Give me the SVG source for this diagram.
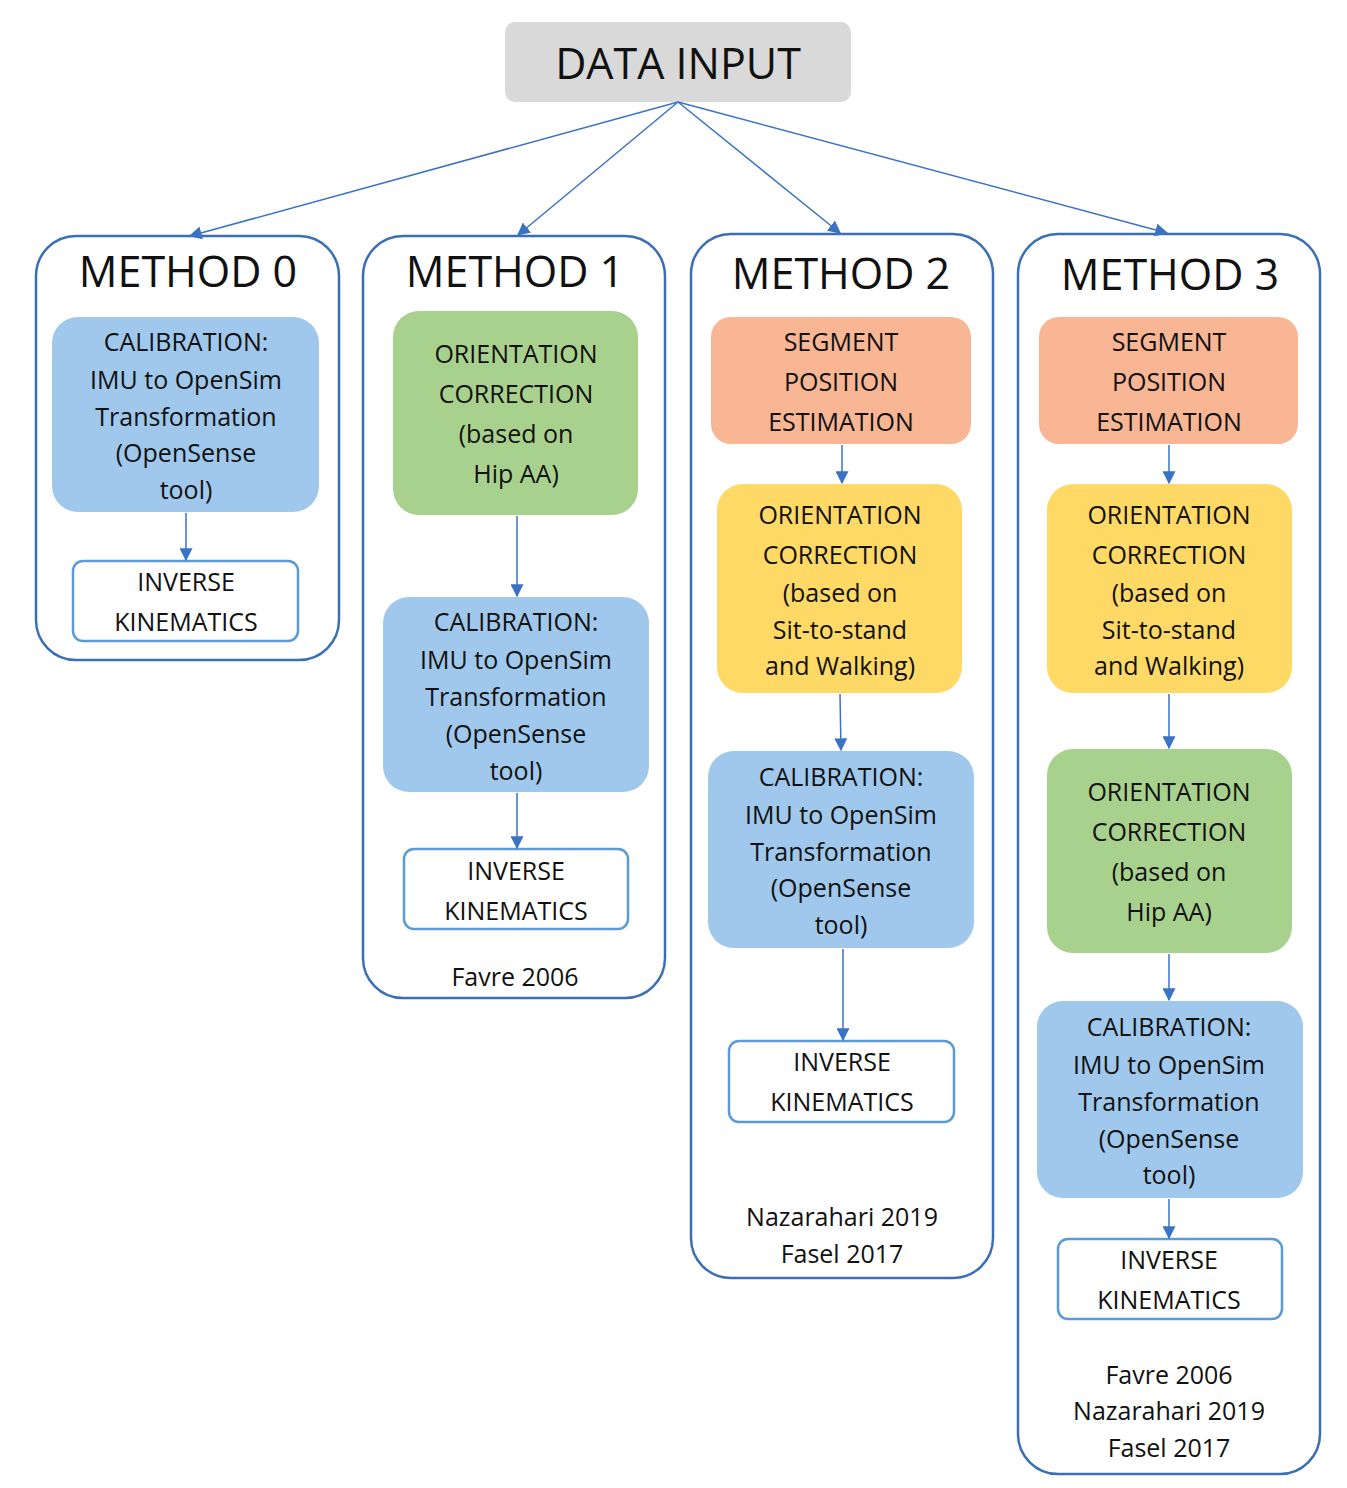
<svg xmlns="http://www.w3.org/2000/svg" width="1347" height="1488" viewBox="0 0 1347 1488">
<defs>
<marker id="ah" viewBox="0 0 10 10" refX="9" refY="5" markerWidth="9" markerHeight="9" markerUnits="userSpaceOnUse" orient="auto"><path d="M0,0 L10,5 L0,10 z" fill="#3a72c4"/></marker>
<marker id="ah2" viewBox="0 0 10 10" refX="9" refY="5" markerWidth="13" markerHeight="13" markerUnits="userSpaceOnUse" orient="auto"><path d="M0,0 L10,5 L0,10 z" fill="#3a72c4"/></marker>
<style>
text{font-family:"Open Sans","Noto Sans",sans-serif;text-anchor:middle;dominant-baseline:central;fill:#111}
.t{font-size:25px}
.h{font-size:43px}
.c{fill:#fff;stroke:#3a6fb5;stroke-width:2.5}
.blue{fill:#9fc8ec}.green{fill:#a9d18e}.sal{fill:#f8b695}.yel{fill:#ffd966}
.ik{fill:#fff;stroke:#5b9bd5;stroke-width:2.5}
.e{stroke:#3a72c4;stroke-width:1.5;fill:none;marker-end:url(#ah2)}
</style>
</defs>
<rect width="1347" height="1488" fill="#fff"/>
<g id="data-input"><rect x="505" y="22" width="346" height="80" rx="10" fill="#d9d9d9"/><text x="678" y="62" class="h">DATA INPUT</text></g>
<g id="method0">
<rect class="c" x="36" y="236" width="303" height="424" rx="40"/><text x="188" y="270" class="h">METHOD 0</text>
<rect class="blue" x="52" y="317" width="267" height="195" rx="26"/>
<text class="t" x="186" y="341">CALIBRATION:</text><text class="t" x="186" y="379">IMU to OpenSim</text><text class="t" x="186" y="416">Transformation</text><text class="t" x="186" y="452">(OpenSense</text><text class="t" x="186" y="489">tool)</text>
<rect class="ik" x="73" y="561" width="225" height="80" rx="10"/><text class="t" x="186" y="581">INVERSE</text><text class="t" x="186" y="621">KINEMATICS</text>
</g>
<g id="method1">
<rect class="c" x="363" y="236" width="302" height="762" rx="40"/><text x="515" y="270" class="h">METHOD 1</text>
<rect class="green" x="393" y="311" width="245" height="204" rx="26"/>
<text class="t" x="516" y="353">ORIENTATION</text><text class="t" x="516" y="393">CORRECTION</text><text class="t" x="516" y="433">(based on</text><text class="t" x="516" y="473">Hip AA)</text>
<rect class="blue" x="383" y="597" width="266" height="195" rx="26"/>
<text class="t" x="516" y="621">CALIBRATION:</text><text class="t" x="516" y="659">IMU to OpenSim</text><text class="t" x="516" y="696">Transformation</text><text class="t" x="516" y="733">(OpenSense</text><text class="t" x="516" y="770">tool)</text>
<rect class="ik" x="404" y="849" width="224" height="80" rx="10"/><text class="t" x="516" y="870">INVERSE</text><text class="t" x="516" y="910">KINEMATICS</text>
<text class="t" x="515" y="976">Favre 2006</text>
</g>
<g id="method2">
<rect class="c" x="691" y="234" width="302" height="1044" rx="40"/><text x="841" y="272" class="h">METHOD 2</text>
<rect class="sal" x="711" y="317" width="260" height="127" rx="20"/>
<text class="t" x="841" y="341">SEGMENT</text><text class="t" x="841" y="381">POSITION</text><text class="t" x="841" y="421">ESTIMATION</text>
<rect class="yel" x="717" y="484" width="245" height="209" rx="26"/>
<text class="t" x="840" y="514">ORIENTATION</text><text class="t" x="840" y="554">CORRECTION</text><text class="t" x="840" y="592">(based on</text><text class="t" x="840" y="629">Sit-to-stand</text><text class="t" x="840" y="665">and Walking)</text>
<rect class="blue" x="708" y="751" width="266" height="197" rx="26"/>
<text class="t" x="841" y="776">CALIBRATION:</text><text class="t" x="841" y="814">IMU to OpenSim</text><text class="t" x="841" y="851">Transformation</text><text class="t" x="841" y="887">(OpenSense</text><text class="t" x="841" y="924">tool)</text>
<rect class="ik" x="729" y="1041" width="225" height="81" rx="10"/><text class="t" x="842" y="1061">INVERSE</text><text class="t" x="842" y="1101">KINEMATICS</text>
<text class="t" x="842" y="1216">Nazarahari 2019</text><text class="t" x="842" y="1253">Fasel 2017</text>
</g>
<g id="method3">
<rect class="c" x="1018" y="234" width="302" height="1240" rx="40"/><text x="1170" y="273" class="h">METHOD 3</text>
<rect class="sal" x="1039" y="317" width="259" height="127" rx="20"/>
<text class="t" x="1169" y="341">SEGMENT</text><text class="t" x="1169" y="381">POSITION</text><text class="t" x="1169" y="421">ESTIMATION</text>
<rect class="yel" x="1047" y="484" width="245" height="209" rx="26"/>
<text class="t" x="1169" y="514">ORIENTATION</text><text class="t" x="1169" y="554">CORRECTION</text><text class="t" x="1169" y="592">(based on</text><text class="t" x="1169" y="629">Sit-to-stand</text><text class="t" x="1169" y="665">and Walking)</text>
<rect class="green" x="1047" y="749" width="245" height="204" rx="26"/>
<text class="t" x="1169" y="791">ORIENTATION</text><text class="t" x="1169" y="831">CORRECTION</text><text class="t" x="1169" y="871">(based on</text><text class="t" x="1169" y="911">Hip AA)</text>
<rect class="blue" x="1037" y="1001" width="266" height="197" rx="26"/>
<text class="t" x="1169" y="1026">CALIBRATION:</text><text class="t" x="1169" y="1064">IMU to OpenSim</text><text class="t" x="1169" y="1101">Transformation</text><text class="t" x="1169" y="1138">(OpenSense</text><text class="t" x="1169" y="1174">tool)</text>
<rect class="ik" x="1058" y="1239" width="224" height="80" rx="10"/><text class="t" x="1169" y="1259">INVERSE</text><text class="t" x="1169" y="1299">KINEMATICS</text>
<text class="t" x="1169" y="1374">Favre 2006</text><text class="t" x="1169" y="1410">Nazarahari 2019</text><text class="t" x="1169" y="1447">Fasel 2017</text>
</g>
<g id="connectors">
<path class="e" d="M678,102 L190,236"/>
<path class="e" d="M678,102 L518,235"/>
<path class="e" d="M678,102 L840,233"/>
<path class="e" d="M678,102 L1167,233"/>
<path class="e" d="M186,513 L186,560"/>
<path class="e" d="M517,516 L517,596"/>
<path class="e" d="M517,793 L517,848"/>
<path class="e" d="M842,445 L842,483"/>
<path class="e" d="M840,694 L841,750"/>
<path class="e" d="M843,949 L843,1040"/>
<path class="e" d="M1169,445 L1169,483"/>
<path class="e" d="M1169,694 L1169,748"/>
<path class="e" d="M1169,954 L1169,1000"/>
<path class="e" d="M1169,1199 L1169,1238"/>
</g>
</svg>
